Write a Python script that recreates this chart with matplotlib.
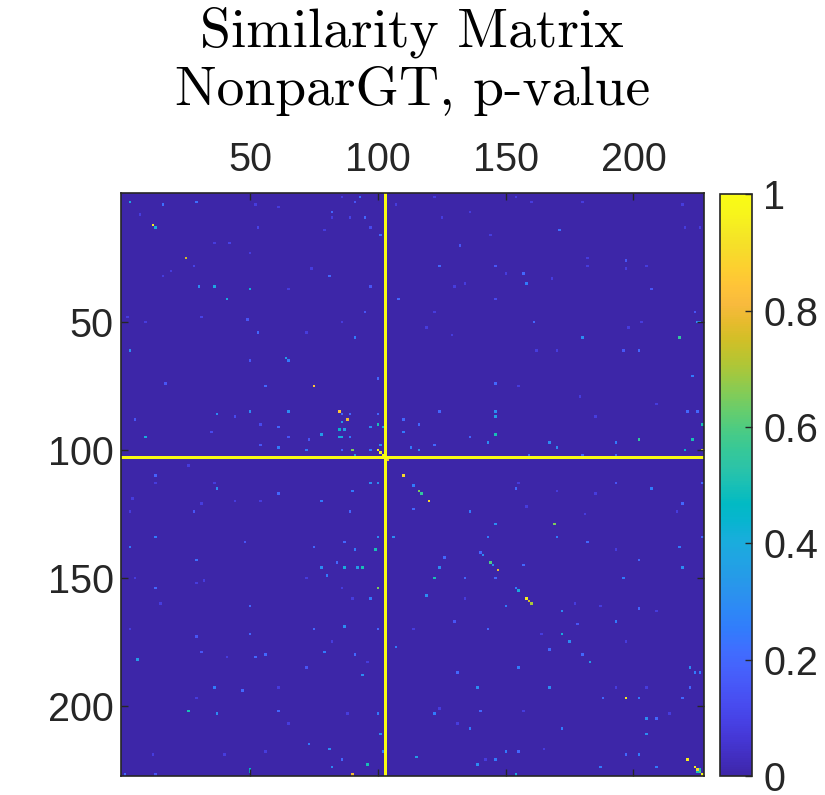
import numpy as np
import matplotlib
matplotlib.use("Agg")
import matplotlib.pyplot as plt
from matplotlib.colors import LinearSegmentedColormap

# similarity matrix, p-values (1-based row/col)
n_items = 228
line_index = 104          # row/column that is all ones
base_value = 0.0
faint_value = 0.08

spot_rows = [4, 5, 4, 13, 14, 26, 37, 37, 38, 42, 33, 8, 2, 4, 10, 10, 14, 17, 37, 47, 57, 55, 42, 14, 20, 29, 50, 49,
             15, 21, 32, 36, 29, 29, 42, 38, 47, 51, 51, 51, 57, 57, 27,
             62, 66, 65, 66, 76, 87, 86, 86, 92, 96, 89, 75, 100, 101, 99, 96, 111, 116, 118, 125, 135, 139, 137, 144, 88, 94, 91, 97,
             76, 73, 86, 89, 90, 93, 93, 96, 96, 96, 87, 95, 101, 103, 101, 102, 103, 105, 91, 92, 92, 101, 87, 87, 99, 101,
             89, 94, 101, 100, 91, 86, 75, 86, 88, 95, 98, 96, 99, 111, 115, 117, 118, 121, 114, 124, 125, 130, 135, 142, 141,
             140, 135, 135, 140, 139, 117, 125, 121, 137, 114, 143,
             62, 62, 72, 91, 97, 97, 101, 101, 98, 98, 100, 103, 103, 103, 86, 86, 116, 114, 114, 122, 130, 135, 139, 135, 137, 116,
             155, 162, 183, 181, 182, 180, 194, 195, 203, 204, 203, 173, 226, 227, 216, 228, 174, 228, 186,
             145, 147, 147, 147, 147, 150, 155, 159, 170, 171, 171, 180, 181, 189, 204, 212, 218, 222, 219, 224, 225, 228,
             151, 147, 158, 178, 194, 188, 203, 204, 210, 171, 221, 224, 222, 145, 146, 148, 151, 168, 151,
             155, 156, 159, 160, 161, 162, 146, 144, 147, 151, 163, 164, 168, 173, 176, 181, 184, 169, 186, 194, 198, 198, 198,
             186, 188, 188, 194, 206, 206, 212, 210, 219, 219, 220, 220, 222, 225, 226, 226, 227, 227, 228, 228, 225, 225, 198, 179]
spot_cols = [4, 17, 30, 13, 14, 26, 31, 37, 51, 42, 82, 83, 94, 92, 96, 90, 98, 102, 98, 96, 92, 54, 109, 54, 43, 29, 50, 32,
             172, 133, 158, 159, 125, 147, 147, 208, 225, 162, 226, 227, 181, 219, 198,
             4, 66, 65, 51, 57, 38, 51, 66, 62, 10, 6, 18, 62, 73, 55, 66, 14, 38, 62, 29, 14, 4, 49, 30, 45, 36, 55, 74,
             76, 101, 86, 89, 87, 86, 88, 86, 87, 90, 90, 79, 91, 92, 101, 102, 103, 105, 101, 103, 98, 98, 87, 101, 102, 87,
             111, 111, 117, 114, 117, 125, 147, 147, 147, 147, 144, 137, 123, 111, 115, 117, 118, 121, 101, 115, 137, 147, 144, 142, 141,
             100, 101, 107, 92, 76, 91, 90, 79, 88, 98, 127,
             203, 197, 224, 228, 203, 224, 221, 228, 194, 168, 171, 160, 194, 181, 222, 226, 208, 194, 228, 220, 170, 171, 219, 228, 183, 155,
             14, 51, 7, 57, 53, 32, 37, 48, 27, 38, 62, 51, 51, 51, 74, 2, 30, 14, 73,
             85, 79, 88, 93, 95, 81, 101, 98, 88, 76, 101, 80, 92, 95, 101, 102, 82, 87, 103, 97, 83, 91,
             123, 125, 120, 108, 140, 132, 141, 123, 137, 144, 116, 140, 147, 145, 146, 148, 135, 131, 147,
             155, 156, 159, 160, 161, 151, 158, 203, 220, 197, 203, 173, 194, 173, 176, 181, 184, 179, 156, 168, 198, 203, 220,
             223, 225, 227, 223, 206, 210, 206, 173, 151, 156, 203, 198, 222, 225, 226, 227, 226, 227, 228, 155, 210, 188, 189, 168]
spot_vals = [0.38, 0.22, 0.22, 0.95, 0.4, 0.75, 0.3, 0.38, 0.42, 0.4, 0.2, 0.2, 0.22, 0.15, 0.2, 0.1, 0.12, 0.2, 0.15, 0.15, 0.25, 0.2, 0.2, 0.1, 0.1, 0.1, 0.15, 0.1,
             0.22, 0.15, 0.2, 0.25, 0.2, 0.15, 0.12, 0.15, 0.15, 0.2, 0.3, 0.3, 0.3, 0.55, 0.15,
             0.3, 0.25, 0.35, 0.15, 0.2, 0.3, 0.3, 0.3, 0.2, 0.4, 0.15, 0.15, 0.25, 0.25, 0.15, 0.15, 0.18, 0.3, 0.2, 0.15, 0.25, 0.25, 0.15, 0.22, 0.12, 0.12, 0.12, 0.15,
             0.85, 0.2, 0.85, 0.8, 0.35, 0.45, 0.35, 0.4, 0.4, 0.25, 0.2, 0.35, 0.65, 0.35, 0.95, 0.95, 1.0, 0.85, 0.5, 0.35, 0.3, 0.25, 0.2, 0.2, 0.3, 0.2,
             0.2, 0.25, 0.3, 0.25, 0.2, 0.2, 0.2, 0.3, 0.35, 0.5, 0.3, 0.2, 0.2, 0.9, 0.25, 0.65, 0.55, 0.9, 0.3, 0.2, 0.25, 0.3, 0.25, 0.3, 0.2,
             0.5, 0.3, 0.3, 0.25, 0.2, 0.25, 0.2, 0.25, 0.2, 0.3, 0.2,
             0.2, 0.15, 0.25, 0.5, 0.55, 0.5, 0.45, 0.95, 0.25, 0.3, 0.3, 0.2, 0.2, 0.2, 0.2, 0.2, 0.25, 0.15, 0.2, 0.2, 0.65, 0.25, 0.25, 0.2, 0.2, 0.2,
             0.2, 0.2, 0.35, 0.2, 0.2, 0.15, 0.25, 0.2, 0.5, 0.3, 0.2, 0.2, 0.45, 0.45, 0.25, 0.2, 0.15, 0.15, 0.15,
             0.2, 0.3, 0.4, 0.35, 0.5, 0.25, 0.65, 0.25, 0.3, 0.2, 0.2, 0.25, 0.2, 0.3, 0.25, 0.3, 0.3, 0.2, 0.25, 0.5, 0.3, 0.8,
             0.5, 0.3, 0.3, 0.25, 0.3, 0.2, 0.2, 0.25, 0.25, 0.2, 0.35, 0.3, 0.25, 0.6, 0.3, 0.8, 0.2, 0.15, 0.2,
             0.25, 0.4, 0.95, 0.75, 0.7, 0.25, 0.2, 0.2, 0.3, 0.25, 0.2, 0.3, 0.25, 0.4, 0.3, 0.2, 0.35, 0.15, 0.25, 0.3, 0.95, 0.25, 0.2,
             0.3, 0.25, 0.25, 0.2, 0.3, 0.2, 0.3, 0.25, 0.25, 0.2, 0.25, 0.2, 0.95, 0.95, 0.9, 0.5, 0.5, 0.6, 1.0, 0.4, 0.25, 0.25, 0.2, 0.2]

faint_rows = [5, 6, 9, 20, 24, 31, 33, 30, 38, 51, 55, 51, 49, 15, 5, 10, 2, 2, 10, 8, 17, 2, 26, 29, 30, 29, 14, 14, 5, 32,
              34, 37, 36, 53, 51, 56, 53, 47, 4, 4, 151, 153, 152, 171, 161, 182, 198, 208, 220, 219, 220, 151, 194,
              155, 159, 176, 184, 204, 171, 159, 208, 202, 222, 162, 164, 173, 176, 194, 204, 203, 218, 194, 161,
              114, 114, 107, 121, 121, 125, 122, 120, 62, 62, 76, 80, 83, 88, 114, 117, 118, 126, 125, 123, 140]
faint_cols = [53, 62, 8, 37, 51, 20, 17, 75, 66, 87, 73, 10, 3, 80, 108, 83, 87, 123, 126, 137, 145, 155, 183, 183, 198, 206, 221, 227, 220, 151,
              169, 131, 135, 199, 204, 130, 120, 123, 161, 181, 6, 30, 33, 4, 16, 42, 30, 66, 41, 57, 13, 73, 62,
              87, 91, 83, 97, 89, 115, 135, 132, 125, 143, 188, 210, 165, 198, 206, 215, 158, 166, 194, 178,
              14, 37, 27, 45, 55, 4, 32, 5, 163, 171, 156, 180, 210, 186, 156, 171, 186, 182, 218, 159, 194]

cbar_ticks = [0, 0.2, 0.4, 0.6, 0.8, 1]
axis_ticks = [50, 100, 150, 200]

sim = np.full((n_items, n_items), base_value)
sim[np.array(faint_rows) - 1, np.array(faint_cols) - 1] = faint_value
sim[np.array(spot_rows) - 1, np.array(spot_cols) - 1] = spot_vals
sim[line_index - 1, :] = 1.0
sim[:, line_index - 1] = 1.0

# parula-like colormap (anchors from MATLAB's parula)
parula = LinearSegmentedColormap.from_list("parula", [
    (0.2422, 0.1504, 0.6603), (0.2578, 0.1818, 0.7511), (0.2706, 0.2147, 0.8364),
    (0.2783, 0.2559, 0.8991), (0.2813, 0.3006, 0.9414), (0.2795, 0.3447, 0.9717),
    (0.2699, 0.3892, 0.9906), (0.2440, 0.4358, 0.9988), (0.1963, 0.4847, 0.9892),
    (0.1786, 0.5289, 0.9682), (0.1687, 0.5703, 0.9359), (0.1460, 0.6091, 0.9079),
    (0.1248, 0.6459, 0.8883), (0.0952, 0.6798, 0.8598), (0.0297, 0.7082, 0.8163),
    (0.0067, 0.7312, 0.7660), (0.0964, 0.7500, 0.7120), (0.1717, 0.7670, 0.6554),
    (0.2161, 0.7843, 0.5923), (0.2906, 0.7973, 0.5188), (0.3909, 0.8029, 0.4354),
    (0.5044, 0.7993, 0.3480), (0.6174, 0.7876, 0.2612), (0.7242, 0.7698, 0.1910),
    (0.8203, 0.7498, 0.1535), (0.9035, 0.7330, 0.1774), (0.9728, 0.7298, 0.2394),
    (0.9970, 0.7659, 0.2199), (0.9892, 0.8136, 0.1885), (0.9676, 0.8639, 0.1643),
    (0.9597, 0.9135, 0.1423), (0.9691, 0.9606, 0.1064), (0.9769, 0.9839, 0.0805)])

dark = "#262626"
plt.rcParams['font.family'] = ['Liberation Sans', 'DejaVu Sans']
tick_size = 28.5

fig = plt.figure(figsize=(8.25, 7.95), dpi=100)
ax = fig.add_axes([120.3 / 825, 19 / 795, 584 / 825, 583 / 795])
im = ax.imshow(sim, cmap=parula, vmin=0, vmax=1, interpolation="nearest", aspect="equal")

ax.set_xticks(axis_ticks)
ax.set_yticks(axis_ticks)
ax.xaxis.tick_top()
ax.tick_params(which="both", direction="in", length=5, width=1, color=dark,
               labelsize=tick_size, labelcolor=dark, top=True, bottom=True, left=True, right=True,
               labeltop=True, labelbottom=False)
ax.tick_params(axis="x", pad=10)
ax.tick_params(axis="y", pad=5)
for sp in ax.spines.values():
    sp.set_color(dark)
    sp.set_linewidth(1.2)

cax = fig.add_axes([720.3 / 825, 19 / 795, 32 / 825, 581.7 / 795])
cb = fig.colorbar(im, cax=cax, ticks=cbar_ticks)
cb.ax.set_yticklabels(["0", "0.2", "0.4", "0.6", "0.8", "1"])
cb.ax.tick_params(direction="in", length=5, width=1, color=dark, labelsize=tick_size,
                  labelcolor=dark, pad=8)
cb.outline.set_edgecolor(dark)
cb.outline.set_linewidth(1.2)

cx = (120.3 + 704.3) / 2 / 825
fig.text(cx, 1 - 46 / 795, "Similarity Matrix", family="cmr10", fontsize=40,
         ha="center", va="baseline", color="black")
fig.text(cx, 1 - 105 / 795, "NonparGT, p-value", family="cmr10", fontsize=40,
         ha="center", va="baseline", color="black")

fig.savefig("out.png", dpi=100)
